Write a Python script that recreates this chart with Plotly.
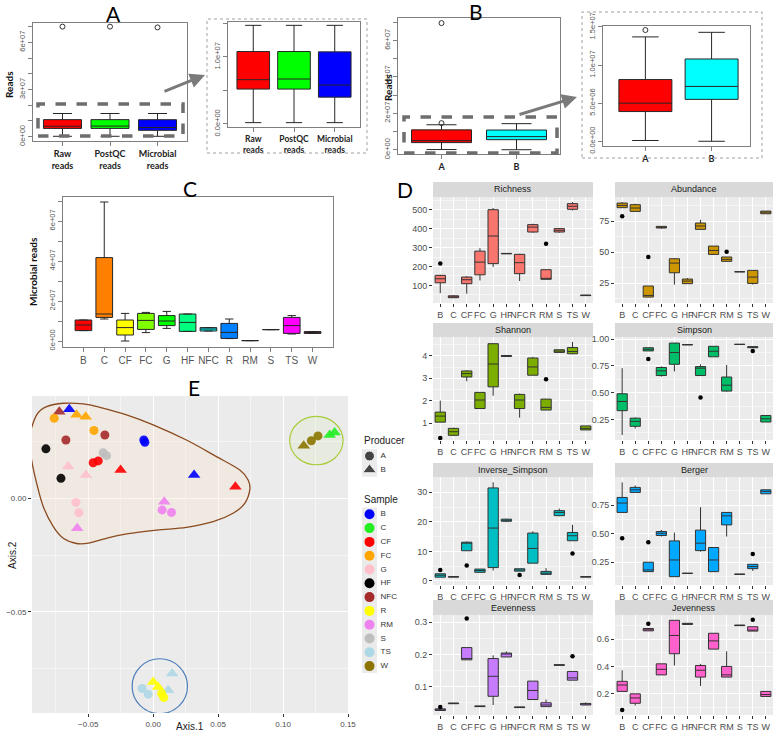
import plotly.graph_objects as go

W, H = 777, 733

# ===================== DATA =====================
# ---- Panel A: reads per processing stage ----
a_labels = ["Raw<br>reads", "PostQC<br>reads", "Microbial<br>reads"]
a_low = [0.02e7, 0.02e7, 0.02e7]
a_q1 = [0.52e7, 0.52e7, 0.40e7]
a_median = [0.66e7, 0.67e7, 0.58e7]
a_q3 = [1.08e7, 1.08e7, 1.075e7]
a_high = [1.47e7, 1.47e7, 1.47e7]
a_outlier = [7.0e7, 7.0e7, 6.95e7]

# ---- Panel B: reads per producer ----
b_labels = ["A", "B"]
b_low = [0.1e6, 0.0]
b_q1 = [3.9e6, 5.5e6]
b_median = [5.0e6, 7.2e6]
b_q3_main = [10.9e6, 10.8e6]
b_q3_zoom = [8.1e6, 10.8e6]
b_high = [13.7e6, 14.3e6]
b_outlier_group = [1, 1]
b_outlier = [14.6e6, 6.95e7]

# ---- Panel C: microbial reads per sample type ----
c_labels = ["B", "C", "CF", "FC", "G", "HF", "NFC", "R", "RM", "S", "TS", "W"]
c_low = [0.52e7, 1.10e7, 0.00e7, 0.42e7, 0.63e7, 0.48e7, 0.50e7, 0.12e7, 0.02e7, 0.57e7, 0.35e7, 0.38e7]
c_q1 = [0.52e7, 1.18e7, 0.30e7, 0.58e7, 0.77e7, 0.48e7, 0.50e7, 0.13e7, 0.02e7, 0.57e7, 0.38e7, 0.38e7]
c_median = [0.80e7, 1.35e7, 0.67e7, 1.03e7, 1.00e7, 0.93e7, 0.60e7, 0.43e7, 0.02e7, 0.57e7, 0.77e7, 0.42e7]
c_q3 = [1.05e7, 4.17e7, 1.05e7, 1.38e7, 1.27e7, 1.35e7, 0.67e7, 0.88e7, 0.02e7, 0.57e7, 1.18e7, 0.47e7]
c_high = [1.05e7, 6.95e7, 1.38e7, 1.43e7, 1.48e7, 1.35e7, 0.67e7, 1.10e7, 0.02e7, 0.57e7, 1.27e7, 0.47e7]

# ---- Panel D: diversity indices (lower whisker, Q1, median, Q3, upper whisker) ----
d_categories = ["B", "C", "CF", "FC", "G", "HF", "NFC", "R", "RM", "S", "TS", "W"]
d_metrics = ["Richness", "Abundance", "Shannon", "Simpson",
             "Inverse_Simpson", "Berger", "Eevenness", "Jevenness"]
richness = [(59, 114, 135, 153, 156), (33, 35, 38, 45, 48), (56, 109, 130, 144, 149),
            (126, 156, 223, 281, 297), (197, 215, 361, 500, 509), (266, 267, 268, 269, 270),
            (123, 162, 220, 264, 267), (378, 382, 408, 421, 426), (132, 132, 135, 183, 183),
            (378, 382, 391, 400, 403), (496, 502, 518, 532, 540), (45, 46, 47, 49, 50)]
richness_out = [("B", 216), ("RM", 320)]
abundance = [(85.5, 85.8, 87.6, 89.5, 90.3), (82.3, 82.8, 85.5, 88.2, 89.0), (13.5, 13.7, 15.0, 22.6, 22.6),
             (68.8, 69.4, 70.0, 70.7, 70.9), (23.7, 33.3, 41.1, 44.6, 45.2), (24.5, 24.5, 26.6, 28.2, 29.0),
             (68.0, 68.3, 71.0, 73.4, 76.0), (48.1, 48.1, 51.3, 54.8, 54.8), (42.5, 42.5, 44.1, 46.0, 46.0),
             (34.1, 34.1, 34.1, 34.1, 34.1), (23.7, 24.7, 29.8, 35.2, 35.2), (80.9, 80.9, 82.3, 83.0, 83.0)]
abundance_out = [("B", 78.8), ("CF", 46.0), ("RM", 50.2)]
shannon = [(1.04, 1.04, 1.31, 1.49, 2.00), (0.42, 0.45, 0.61, 0.76, 0.79), (2.87, 3.06, 3.21, 3.33, 3.36),
           (1.65, 1.65, 2.03, 2.37, 2.37), (2.22, 2.62, 3.64, 4.55, 4.58), (3.97, 3.98, 4.00, 4.02, 4.03),
           (1.24, 1.65, 2.03, 2.28, 2.32), (3.14, 3.14, 3.51, 3.91, 3.96), (1.58, 1.58, 1.70, 2.07, 2.07),
           (4.16, 4.16, 4.22, 4.28, 4.28), (4.08, 4.10, 4.20, 4.38, 4.63), (0.69, 0.69, 0.76, 0.87, 0.87)]
shannon_out = [("B", 0.33), ("RM", 2.96)]
simpson = [(0.104, 0.332, 0.418, 0.490, 0.729), (0.165, 0.186, 0.232, 0.262, 0.270),
           (0.890, 0.890, 0.905, 0.920, 0.920), (0.650, 0.660, 0.704, 0.735, 0.745),
           (0.698, 0.765, 0.875, 0.963, 0.965), (0.946, 0.947, 0.948, 0.949, 0.950),
           (0.660, 0.660, 0.729, 0.744, 0.765), (0.835, 0.835, 0.887, 0.933, 0.933),
           (0.510, 0.515, 0.570, 0.646, 0.759), (0.950, 0.950, 0.951, 0.952, 0.952),
           (0.918, 0.920, 0.925, 0.930, 0.930), (0.226, 0.226, 0.256, 0.287, 0.287)]
simpson_out = [("CF", 0.814), ("NFC", 0.454), ("TS", 0.890)]
inverse_simpson = [(1.25, 1.25, 1.9, 2.4, 2.4), (1.3, 1.3, 1.36, 1.42, 1.42), (10.2, 10.2, 12.8, 13.1, 13.4),
                   (2.9, 2.9, 3.5, 4.0, 4.0), (3.5, 4.5, 17.9, 31.5, 33.4), (19.9, 20.2, 20.5, 20.9, 21.1),
                   (3.3, 3.3, 3.7, 4.1, 4.1), (6.0, 6.0, 11.0, 16.2, 16.8), (2.2, 2.2, 2.6, 3.2, 4.3),
                   (21.9, 22.1, 23.2, 23.8, 24.5), (13.6, 13.6, 15.3, 16.4, 19.0), (1.3, 1.3, 1.36, 1.42, 1.42)]
inverse_simpson_out = [("B", 3.7), ("CF", 5.2), ("NFC", 2.0), ("TS", 9.3)]
berger = [(0.686, 0.686, 0.768, 0.817, 0.949), (0.861, 0.861, 0.884, 0.905, 0.922),
          (0.168, 0.168, 0.183, 0.250, 0.250), (0.475, 0.484, 0.504, 0.519, 0.533),
          (0.124, 0.124, 0.270, 0.437, 0.510), (0.152, 0.152, 0.153, 0.154, 0.154),
          (0.343, 0.352, 0.417, 0.531, 0.732), (0.168, 0.168, 0.270, 0.379, 0.379),
          (0.475, 0.577, 0.656, 0.686, 0.686), (0.144, 0.144, 0.145, 0.146, 0.146),
          (0.174, 0.194, 0.212, 0.232, 0.232), (0.849, 0.849, 0.870, 0.884, 0.884)]
berger_out = [("B", 0.461), ("CF", 0.425), ("TS", 0.323)]
eevenness = [(0.026, 0.026, 0.028, 0.031, 0.031), (0.047, 0.047, 0.048, 0.049, 0.049),
             (0.183, 0.183, 0.187, 0.221, 0.221), (0.038, 0.038, 0.039, 0.040, 0.040),
             (0.043, 0.070, 0.132, 0.187, 0.197), (0.192, 0.192, 0.201, 0.204, 0.209),
             (0.035, 0.035, 0.036, 0.037, 0.037), (0.060, 0.060, 0.088, 0.117, 0.117),
             (0.038, 0.038, 0.043, 0.050, 0.060), (0.166, 0.166, 0.167, 0.168, 0.168),
             (0.120, 0.120, 0.127, 0.147, 0.147), (0.043, 0.043, 0.046, 0.048, 0.051)]
eevenness_out = [("B", 0.037), ("CF", 0.311), ("TS", 0.194)]
jevenness = [(0.218, 0.218, 0.265, 0.292, 0.373), (0.114, 0.131, 0.170, 0.200, 0.200),
             (0.662, 0.662, 0.669, 0.679, 0.679), (0.339, 0.339, 0.380, 0.420, 0.420),
             (0.408, 0.494, 0.628, 0.739, 0.739), (0.708, 0.709, 0.713, 0.717, 0.718),
             (0.258, 0.323, 0.373, 0.408, 0.420), (0.528, 0.528, 0.588, 0.644, 0.644),
             (0.323, 0.323, 0.339, 0.401, 0.512), (0.700, 0.700, 0.702, 0.704, 0.704),
             (0.660, 0.660, 0.667, 0.692, 0.692), (0.181, 0.181, 0.195, 0.218, 0.218)]
jevenness_out = [("B", 0.082), ("CF", 0.713), ("TS", 0.743)]

# ---- Panel E: PCoA ordination ----
e_sample = ["HF", "HF", "NFC", "NFC", "NFC", "B", "FC", "FC", "FC", "FC",
            "S", "S", "CF", "CF", "CF", "CF", "B", "B", "B", "G",
            "G", "G", "G", "RM", "RM", "RM", "RM", "W", "W", "W",
            "C", "C", "TS", "TS", "TS", "TS", "R", "R", "R", "R"]
e_producer = ["A", "A", "A", "A", "B", "B", "A", "B", "B", "A",
              "A", "A", "A", "A", "B", "B", "A", "A", "B", "B",
              "B", "A", "A", "B", "B", "A", "A", "B", "A", "A",
              "B", "B", "A", "A", "B", "B", "B", "B", "A", "A"]
e_axis1 = [-0.0826, -0.0710, -0.0672, -0.0372, -0.0723, -0.0646, -0.0762, -0.0590, -0.0520, -0.0456,
           -0.0385, -0.0359, -0.0462, -0.0423, -0.0251, 0.0633, -0.0072, -0.0064, 0.0315, -0.0654,
           -0.0518, -0.0595, -0.0572, -0.0585, 0.0085, 0.0069, 0.0141, 0.1159, 0.1218, 0.1269,
           0.1359, 0.1397, -0.0085, -0.0038, 0.0146, 0.0115, 0.0000, 0.0038, 0.0065, 0.0082]
e_axis2 = [0.0218, 0.0088, 0.0257, 0.0279, 0.0382, 0.0393, 0.0353, 0.0368, 0.0360, 0.0299,
           0.0201, 0.0188, 0.0157, 0.0165, 0.0125, 0.0051, 0.0257, 0.0247, 0.0103, 0.0140,
           0.0103, -0.0018, -0.0063, -0.0132, -0.0015, -0.0051, -0.0062, 0.0232, 0.0254, 0.0275,
           0.0279, 0.0290, -0.0838, -0.0863, -0.0772, -0.0846, -0.0809, -0.0831, -0.0860, -0.0878]
e_legend_samples = ["B", "C", "CF", "FC", "G", "HF", "NFC", "R", "RM", "S", "TS", "W"]
e_legend_producers = ["A", "B"]

# ===================== STYLES =====================
a_colors = ["#FF0000", "#00FF00", "#0000FF"]
b_colors = ["#FF0000", "#00FFFF"]
c_colors = ["#FF0000", "#FF8000", "#FFFF00", "#80FF00", "#00FF00", "#00FF80",
            "#00FFFF", "#0080FF", "#0000FF", "#8000FF", "#FF00FF", "#FF0080"]
d_colors = ["#F8766D", "#CD9600", "#7CAE00", "#00BE67", "#00BFC4", "#00A9FF", "#C77CFF", "#FF61CC"]
e_colors = {"B": "#0000FF", "C": "#22EE22", "CF": "#FF0000", "FC": "#FFA500", "G": "#FFC0CB",
            "HF": "#000000", "NFC": "#A52A2A", "R": "#FFFF00", "RM": "#EE82EE", "S": "#BEBEBE",
            "TS": "#ADD8E6", "W": "#8B7500"}

BASE_FONT = "Liberation Sans"
LETTER_FONT = "Lato"


def xdom(a, b):
    return [a / W, b / W]


def ydom(top, bottom):
    return [1 - bottom / H, 1 - top / H]


def px(p):
    return p / W


def py(p):
    return 1 - p / H


def ref(n, k):
    return k if n == 1 else f"{k}{n}"


def axkey(n, k):
    return f"{k}axis" if n == 1 else f"{k}axis{n}"


fig = go.Figure()
layout = dict(width=W, height=H, autosize=False,
              margin=dict(l=0, r=0, t=0, b=0, pad=0, autoexpand=False),
              paper_bgcolor="white", plot_bgcolor="white", showlegend=False,
              boxmode="overlay", font=dict(family=BASE_FONT, size=9, color="#333333"))
shapes = []
annotations = []

RGREY = "#7F7F7F"


def rbase_axes(n, xd, yd, xrange, yrange, xticks, xtext, yticks, ytext, xfont):
    layout[axkey(n, "x")] = dict(domain=xd, range=xrange, anchor=ref(n, "y"),
                                 tickmode="array", tickvals=xticks, ticktext=xtext,
                                 tickangle=0, automargin=False,
                                 showline=True, mirror=True, linecolor=RGREY, linewidth=1,
                                 ticks="outside", ticklen=4, tickcolor=RGREY,
                                 showgrid=False, zeroline=False, tickfont=xfont)
    layout[axkey(n, "y")] = dict(domain=yd, range=yrange, anchor=ref(n, "x"),
                                 tickmode="array", tickvals=yticks, ticktext=ytext,
                                 tickangle=-90, automargin=False,
                                 showline=True, mirror=True, linecolor=RGREY,
                                 linewidth=1, ticks="outside", ticklen=4, tickcolor=RGREY,
                                 showgrid=False, zeroline=False,
                                 tickfont=dict(size=7.5, color="#555555"))


def rbox(n, xpos, lo, q1, med, q3, hi, color, width=0.8):
    fig.add_trace(go.Box(x=[xpos], lowerfence=[lo], q1=[q1], median=[med], q3=[q3],
                         upperfence=[hi], fillcolor=color,
                         line=dict(color="#262626", width=1), width=width, whiskerwidth=0.5,
                         boxpoints=False, hoverinfo="skip",
                         xaxis=ref(n, "x"), yaxis=ref(n, "y")))


bold_font = dict(family=LETTER_FONT, size=9, color="#222222", weight="bold")

# ---------- Panel A ----------
e7_ticks = [i * 1e7 for i in range(8)]
rbase_axes(1, xdom(33, 187), ydom(23, 141), [0.38, 3.62], [-0.28e7, 7.23e7],
           [1, 2, 3], a_labels, e7_ticks,
           ["0e+00", "", "", "3e+07", "", "", "6e+07", ""], bold_font)
rbase_axes(2, xdom(228, 360), ydom(22, 127), [0.38, 3.62], [-0.045e7, 1.52e7],
           [1, 2, 3], a_labels, [0, 0.5e7, 1.0e7, 1.5e7],
           ["0.0e+00", "", "1.0e+07", ""], dict(bold_font, size=8.5))
for k in range(3):
    for n in (1, 2):
        rbox(n, k + 1, a_low[k], a_q1[k], a_median[k], a_q3[k], a_high[k], a_colors[k])
for n in (1, 2):
    fig.add_trace(go.Scatter(x=[1, 2, 3], y=a_outlier, mode="markers",
                             marker=dict(symbol="circle-open", size=5, color="#333333"),
                             hoverinfo="skip", xaxis=ref(n, "x"), yaxis=ref(n, "y")))

# ---------- Panel B ----------
rbase_axes(3, xdom(398, 560), ydom(18, 154), [0.42, 2.58], [-0.235e7, 7.23e7],
           [1, 2], b_labels, e7_ticks,
           ["0e+00", "", "2e+07", "", "4e+07", "", "6e+07", ""], bold_font)
rbase_axes(4, xdom(603, 750), ydom(26, 146), [0.36, 2.58], [-0.62e6, 15.13e6],
           [1, 2], b_labels, [0, 5e6, 1e7, 1.5e7],
           ["0.0e+00", "5.0e+06", "1.0e+07", "1.5e+07"], bold_font)
for k in range(2):
    rbox(3, k + 1, b_low[k], b_q1[k], b_median[k], b_q3_main[k], b_high[k], b_colors[k])
    rbox(4, k + 1, b_low[k], b_q1[k], b_median[k], b_q3_zoom[k], b_high[k], b_colors[k])
for n in (3, 4):
    fig.add_trace(go.Scatter(x=b_outlier_group, y=b_outlier, mode="markers",
                             marker=dict(symbol="circle-open", size=5, color="#333333"),
                             hoverinfo="skip", xaxis=ref(n, "x"), yaxis=ref(n, "y")))

# ---------- Panel C ----------
rbase_axes(5, xdom(63, 333), ydom(197, 347), [0.02, 12.98], [-0.3e7, 7.2e7],
           list(range(1, 13)), c_labels, e7_ticks,
           ["0e+00", "", "2e+07", "", "4e+07", "", "6e+07", ""],
           dict(family=BASE_FONT, size=10, color="#555555"))
for k in range(12):
    rbox(5, k + 1, c_low[k], c_q1[k], c_median[k], c_q3[k], c_high[k], c_colors[k])

# ---------- Panel D ----------
d_stats = [richness, abundance, shannon, simpson, inverse_simpson, berger, eevenness, jevenness]
d_outs = [richness_out, abundance_out, shannon_out, simpson_out,
          inverse_simpson_out, berger_out, eevenness_out, jevenness_out]
d_yrange = [[7, 567], [8.9, 94.4], [0.24, 4.85], [0.058, 1.02],
            [-1.4, 35.2], [0.051, 0.996], [0.012, 0.322], [0.045, 0.778]]
d_dtick = [100, 25, 1, 0.25, 10, 0.25, 0.1, 0.2]
d_fmt = ["d", "d", "d", ".2f", "d", ".2f", ".1f", ".1f"]
d_colx = [(433, 593), (615, 773)]
d_rowy = [(197, 303), (337, 440), (477, 585), (615, 715)]
d_strip = [(182, 197), (323, 337), (463, 477), (600, 615)]
tick_font = dict(family=BASE_FONT, size=9, color="#4D4D4D")
for i, metric in enumerate(d_metrics):
    n = 6 + i
    r, c = divmod(i, 2)
    x0, x1 = d_colx[c]
    y0, y1 = d_rowy[r]
    layout[axkey(n, "x")] = dict(domain=xdom(x0, x1), anchor=ref(n, "y"), type="category",
                                 categoryorder="array", categoryarray=d_categories,
                                 range=[-0.55, 11.55], showgrid=True, gridcolor="white",
                                 gridwidth=1, zeroline=False, ticks="outside", ticklen=3,
                                 tickangle=0, automargin=False,
                                 tickcolor="#333333", tickfont=tick_font, showline=False)
    layout[axkey(n, "y")] = dict(domain=ydom(y0, y1), anchor=ref(n, "x"), range=d_yrange[i],
                                 tickmode="linear", tick0=0, dtick=d_dtick[i],
                                 tickformat=d_fmt[i], showgrid=True, gridcolor="white",
                                 gridwidth=1, zeroline=False, ticks="outside", ticklen=3,
                                 automargin=False,
                                 tickcolor="#333333", tickfont=tick_font, showline=False,
                                 minor=dict(tick0=0, dtick=d_dtick[i] / 2, showgrid=True,
                                            gridcolor="white", gridwidth=0.5, ticks=""))
    shapes.append(dict(type="rect", xref=f"{ref(n, 'x')} domain", yref=f"{ref(n, 'y')} domain",
                       x0=0, x1=1, y0=0, y1=1, fillcolor="#EBEBEB", line=dict(width=0),
                       layer="below"))
    s0, s1 = d_strip[r]
    shapes.append(dict(type="rect", xref="paper", yref="paper", x0=px(x0), x1=px(x1),
                       y0=py(s1), y1=py(s0), fillcolor="#D9D9D9", line=dict(width=0),
                       layer="below"))
    annotations.append(dict(x=px((x0 + x1) / 2), y=py((s0 + s1) / 2), xref="paper", yref="paper",
                            text=metric, showarrow=False, xanchor="center", yanchor="middle",
                            font=dict(family=BASE_FONT, size=9, color="#1A1A1A")))
    stats = d_stats[i]
    fig.add_trace(go.Box(x=d_categories,
                         lowerfence=[s[0] for s in stats], q1=[s[1] for s in stats],
                         median=[s[2] for s in stats], q3=[s[3] for s in stats],
                         upperfence=[s[4] for s in stats],
                         fillcolor=d_colors[i], line=dict(color="#333333", width=1),
                         width=0.78, whiskerwidth=0, boxpoints=False, hoverinfo="skip",
                         xaxis=ref(n, "x"), yaxis=ref(n, "y")))
    outs = d_outs[i]
    fig.add_trace(go.Scatter(x=[o[0] for o in outs], y=[o[1] for o in outs], mode="markers",
                             marker=dict(size=4.5, color="black"), hoverinfo="skip",
                             xaxis=ref(n, "x"), yaxis=ref(n, "y")))

# ---------- Panel E ----------
NE = 14
layout[axkey(NE, "x")] = dict(domain=xdom(32, 348), anchor=ref(NE, "y"), range=[-0.0933, 0.15],
                              tickmode="linear", tick0=0, dtick=0.05, tickformat=".2f",
                              showgrid=True, gridcolor="white", gridwidth=1, zeroline=False,
                              ticks="outside", ticklen=3, tickcolor="#333333", automargin=False,
                              tickfont=dict(family=BASE_FONT, size=8, color="#4D4D4D"),
                              minor=dict(tick0=0, dtick=0.025, showgrid=True, gridcolor="white",
                                         gridwidth=0.5, ticks=""))
layout[axkey(NE, "y")] = dict(domain=ydom(396, 713), anchor=ref(NE, "x"), range=[-0.0946, 0.0451],
                              tickmode="linear", tick0=0, dtick=0.05, tickformat=".2f",
                              showgrid=True, gridcolor="white", gridwidth=1, zeroline=False,
                              ticks="outside", ticklen=3, tickcolor="#333333", automargin=False,
                              tickfont=dict(family=BASE_FONT, size=8, color="#4D4D4D"),
                              minor=dict(tick0=0, dtick=0.025, showgrid=True, gridcolor="white",
                                         gridwidth=0.5, ticks=""))
shapes.append(dict(type="rect", xref=f"{ref(NE, 'x')} domain", yref=f"{ref(NE, 'y')} domain",
                   x0=0, x1=1, y0=0, y1=1, fillcolor="#EBEBEB", line=dict(width=0), layer="below"))


def smooth_path(pts):
    n = len(pts)
    d = f"M{pts[0][0]:.5f},{pts[0][1]:.5f}"
    for i in range(n):
        p0, p1, p2, p3 = pts[(i - 1) % n], pts[i], pts[(i + 1) % n], pts[(i + 2) % n]
        c1 = (p1[0] + (p2[0] - p0[0]) / 6, p1[1] + (p2[1] - p0[1]) / 6)
        c2 = (p2[0] - (p3[0] - p1[0]) / 6, p2[1] - (p3[1] - p1[1]) / 6)
        d += (f" C{c1[0]:.5f},{c1[1]:.5f} {c2[0]:.5f},{c2[1]:.5f}"
              f" {p2[0]:.5f},{p2[1]:.5f}")
    return d + " Z"


# hand-drawn grouping outline (annotation overlay)
hull_outline = [(-0.0949, 0.0287), (-0.0897, 0.0368), (-0.0821, 0.0404), (-0.0692, 0.0419),
                (-0.0538, 0.0416), (-0.0410, 0.0401), (-0.0205, 0.0368), (0.0, 0.0324),
                (0.0256, 0.0257), (0.0487, 0.0184), (0.0667, 0.0125), (0.0731, 0.0081),
                (0.0744, 0.0037), (0.0705, -0.0022), (0.0615, -0.0066), (0.0462, -0.0103),
                (0.0256, -0.0128), (0.0026, -0.0140), (-0.0205, -0.0157), (-0.0359, -0.0176),
                (-0.0487, -0.0196), (-0.0590, -0.0199), (-0.0692, -0.0176), (-0.0769, -0.0125),
                (-0.0846, -0.0037), (-0.0897, 0.0066), (-0.0936, 0.0169), (-0.0954, 0.0257)]
shapes.append(dict(type="path", xref=ref(NE, "x"), yref=ref(NE, "y"), path=smooth_path(hull_outline),
                   fillcolor="rgba(245,228,205,0.35)", line=dict(color="#8B4A1F", width=1.3),
                   layer="between"))
shapes.append(dict(type="circle", xref=ref(NE, "x"), yref=ref(NE, "y"),
                   x0=0.1051, x1=0.1462, y0=0.0148, y1=0.0361,
                   fillcolor="rgba(200,230,140,0.12)", line=dict(color="#A8CC3A", width=1.2),
                   layer="between"))
shapes.append(dict(type="circle", xref=ref(NE, "x"), yref=ref(NE, "y"),
                   x0=-0.0162, x1=0.0264, y0=-0.0949, y1=-0.0707,
                   fillcolor="rgba(0,0,0,0)", line=dict(color="#4A7EBB", width=1.2),
                   layer="between"))

fig.add_trace(go.Scatter(x=e_axis1, y=e_axis2, mode="markers",
                         marker=dict(color=[e_colors[s] for s in e_sample],
                                     symbol=["circle" if p == "A" else "triangle-up" for p in e_producer],
                                     size=[9 if p == "A" else 11 for p in e_producer],
                                     opacity=0.9, line=dict(width=0)),
                         hoverinfo="skip", xaxis=ref(NE, "x"), yaxis=ref(NE, "y")))

# ---------- Panel E legend (drawn as keys in a hidden helper axis) ----------
NL = 15
layout[axkey(NL, "x")] = dict(domain=xdom(355, 420), anchor=ref(NL, "y"), range=[355, 420],
                              visible=False, showgrid=False, zeroline=False, automargin=False)
layout[axkey(NL, "y")] = dict(domain=ydom(430, 680), anchor=ref(NL, "x"), range=[680, 430],
                              visible=False, showgrid=False, zeroline=False, automargin=False)
key_x, label_x, key_h = 369.5, 380.5, 13.8
prod_y = [456 + key_h * i for i in range(len(e_legend_producers))]
samp_y = [514.3 + key_h * i for i in range(len(e_legend_samples))]
for ys in (prod_y, samp_y):
    shapes.append(dict(type="rect", xref=ref(NL, "x"), yref=ref(NL, "y"), x0=362, x1=377,
                       y0=ys[0] - key_h / 2, y1=ys[-1] + key_h / 2,
                       fillcolor="#EBEBEB", line=dict(width=0), layer="below"))
fig.add_trace(go.Scatter(x=[key_x] * 2, y=prod_y, mode="markers",
                         marker=dict(color="black", symbol=["circle", "triangle-up"], size=[10, 12]),
                         hoverinfo="skip", xaxis=ref(NL, "x"), yaxis=ref(NL, "y")))
fig.add_trace(go.Scatter(x=[key_x] * len(e_legend_samples), y=samp_y, mode="markers",
                         marker=dict(color=[e_colors[s] for s in e_legend_samples], size=10),
                         hoverinfo="skip", xaxis=ref(NL, "x"), yaxis=ref(NL, "y")))
fig.add_trace(go.Scatter(x=[label_x] * (len(prod_y) + len(samp_y)), y=prod_y + samp_y, mode="text",
                         text=e_legend_producers + e_legend_samples, textposition="middle right",
                         textfont=dict(family=BASE_FONT, size=8, color="#333333"),
                         hoverinfo="skip", xaxis=ref(NL, "x"), yaxis=ref(NL, "y")))
for title, yy in (("Producer", 441), ("Sample", 499)):
    annotations.append(dict(x=px(362), y=py(yy), xref="paper", yref="paper", text=title,
                            showarrow=False, xanchor="left", yanchor="middle",
                            font=dict(family=BASE_FONT, size=10, color="#222222")))

# ---------- Decorations: panel letters, axis titles, zoom frames, arrows ----------
for letter, (lx, ly) in {"A": (113, 13), "B": (476, 12), "C": (190, 188),
                         "D": (405, 189), "E": (194, 387)}.items():
    annotations.append(dict(x=px(lx), y=py(ly), xref="paper", yref="paper", text=letter,
                            showarrow=False, xanchor="center", yanchor="middle",
                            font=dict(family=LETTER_FONT, size=21, color="black")))

for txt, (tx, ty), size in (("Reads", (9, 85), 10), ("Reads", (388, 88), 10),
                             ("Microbial reads", (33, 272), 10)):
    annotations.append(dict(x=px(tx), y=py(ty), xref="paper", yref="paper", text=txt,
                            textangle=-90, showarrow=False, xanchor="center", yanchor="middle",
                            font=dict(family=LETTER_FONT, size=size, color="#111111",
                                      weight="bold")))
annotations.append(dict(x=px(190), y=py(726), xref="paper", yref="paper", text="Axis.1",
                        showarrow=False, xanchor="center", yanchor="middle",
                        font=dict(family=BASE_FONT, size=10, color="#222222")))
annotations.append(dict(x=px(12), y=py(555), xref="paper", yref="paper", text="Axis.2",
                        textangle=-90, showarrow=False, xanchor="center", yanchor="middle",
                        font=dict(family=BASE_FONT, size=10, color="#222222")))

# dotted frames around zoomed insets
for (x0, y0, x1, y1) in ((207, 19, 367, 153), (582, 12, 762, 158)):
    shapes.append(dict(type="rect", xref="paper", yref="paper", x0=px(x0), x1=px(x1),
                       y0=py(y1), y1=py(y0), line=dict(color="#A0A0A0", width=1, dash="dot"),
                       fillcolor="rgba(0,0,0,0)"))
# thick dashed zoom regions
for (x0, y0, x1, y1) in ((38, 104, 183, 136), (404, 117, 557, 153)):
    shapes.append(dict(type="rect", xref="paper", yref="paper", x0=px(x0), x1=px(x1),
                       y0=py(y1), y1=py(y0), line=dict(color="#6E6E6E", width=3.5, dash="dash"),
                       fillcolor="rgba(0,0,0,0)"))
# arrows
for (tx, ty, hx, hy) in ((163, 92, 205, 75), (518, 115, 577, 97)):
    annotations.append(dict(x=px(hx), y=py(hy), xref="paper", yref="paper", text="",
                            showarrow=True, ax=tx - hx, ay=ty - hy, arrowhead=2, arrowsize=1,
                            arrowwidth=3, arrowcolor="#7A7A7A"))

layout["shapes"] = shapes
layout["annotations"] = annotations
fig.update_layout(**layout)
fig.write_html("out.html",
               config={"displayModeBar": False, "staticPlot": True},
               post_script="document.body.style.margin='0';document.body.style.overflow='hidden';")
